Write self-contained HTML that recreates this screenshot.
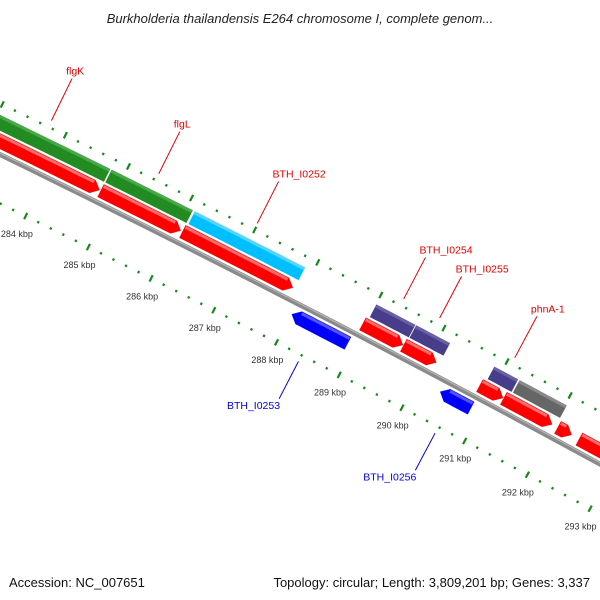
<!DOCTYPE html>
<html><head><meta charset="utf-8"><style>
html,body{margin:0;padding:0;background:#fff}
svg{display:block}
text{font-family:"Liberation Sans","DejaVu Sans",sans-serif}
</style></head><body>
<svg id="map" width="600" height="600" viewBox="0 0 600 600" xmlns="http://www.w3.org/2000/svg">
<text x="300" y="23" text-anchor="middle" font-size="13" font-style="italic" fill="#222">Burkholderia thailandensis E264 chromosome I, complete genom...</text>
<g id="ticks"></g>
<g id="feats"></g>
<g id="labels"></g>
<text x="9" y="587" font-size="13" fill="#111">Accession: NC_007651</text>
<text x="590" y="587" text-anchor="end" font-size="13" fill="#111">Topology: circular; Length: 3,809,201 bp; Genes: 3,337</text>
</svg>
<script>
// data (kbp)
const tickKbp = [282,283,284,285,286,287,288,289,290,291,292,293,294,295];
const tickLabels = ["282 kbp","283 kbp","284 kbp","285 kbp","286 kbp","287 kbp","288 kbp","289 kbp","290 kbp","291 kbp","292 kbp","293 kbp","294 kbp","295 kbp"];
const featStart = [280.0, 284.80, 286.12, 289.00, 289.63, 290.87, 291.27, 280.0, 284.80, 286.10, 288.96, 289.61, 290.82, 291.20, 292.06, 292.40, 288.01, 290.37];
const featEnd   = [284.79, 286.10, 287.88, 289.63, 290.18, 291.26, 292.03, 284.78, 286.07, 287.85, 289.60, 290.13, 291.19, 291.97, 292.28, 295.0, 288.90, 290.86];
const featTrack = ["outer","outer","outer","outer","outer","outer","outer","fwd","fwd","fwd","fwd","fwd","fwd","fwd","fwd","fwd","rev","rev"];
const featType  = ["green","green","cyan","purple","purple","purple","gray","red","red","red","red","red","red","red","red","red","blue","blue"];
const labelText = ["flgK","flgL","BTH_I0252","BTH_I0254","BTH_I0255","phnA-1","BTH_I0253","BTH_I0256"];
const labelKbp  = [283.73, 285.43, 286.99, 289.31, 289.88, 291.07, 288.4, 290.58];
const labelStrand = ["f","f","f","f","f","f","r","r"];

const NS="http://www.w3.org/2000/svg";
function P(k,d){
  const bx=108+(k-285)*62.9;
  const by=154.5+0.487*bx+4.8e-5*bx*bx;
  const t=Math.atan(0.487+9.6e-5*bx);
  return [bx+d*Math.sin(t), by-d*Math.cos(t)];
}
function mk(tag,attrs,parent){const e=document.createElementNS(NS,tag);for(const a in attrs)e.setAttribute(a,attrs[a]);parent.appendChild(e);return e;}
function pathAlong(k0,k1,d){let s="";const n=20;for(let i=0;i<=n;i++){const p=P(k0+(k1-k0)*i/n,d);s+=(i?"L":"M")+p[0].toFixed(1)+","+p[1].toFixed(1);}return s;}

const ticks=document.getElementById('ticks');
let bb=mk('path',{d:pathAlong(278,297,0),stroke:'#8a8a8a','stroke-width':5,fill:'none'},ticks);


let bb2=mk('path',{d:pathAlong(278,297,1.2),stroke:'#b5b5b5','stroke-width':1.2,fill:'none'},ticks);



for(let i=0;i<=14*5;i++){
  const k=281+i*0.2;
  const major=Math.abs(k-Math.round(k))<1e-6;
  [[46,1],[-44,-1]].forEach(([d,s])=>{
    const a=major?P(k,d-3.5):P(k,d-1.2), b=major?P(k,d+3.5):P(k,d+1.2);
    const l=mk('line',{x1:a[0],y1:a[1],x2:b[0],y2:b[1],stroke:'#17881a','stroke-width':2.2},ticks);
    
    
  });
}
tickKbp.forEach((k,i)=>{
  const p=P(k,-64);
  const t=mk('text',{x:p[0],y:p[1]+3,'text-anchor':'middle','font-size':9,fill:'#333'},ticks);
  t.textContent=tickLabels[i];
  
  
});

const trackD={outer:[21,36],fwd:[5,19],rev:[-19,-5]};
const col={green:['#228b22','#48a848','#1b6f1b'],cyan:['#00bfff','#55d4ff','#0099cc'],purple:['#483d8b','#6a60a8','#39306f'],gray:['#666666','#8a8a8a','#525252'],red:['#ff0000','#ff6a6a','#cc0000'],blue:['#0000ff','#5555ff','#0000c8']};
const feats=document.getElementById('feats');
const H=0.11;
featStart.forEach((s,i)=>{
  const e=featEnd[i],tr=featTrack[i],[d0,d1]=trackD[tr],c=col[featType[i]];
  const dm=(d0+d1)/2;
  let pts=[];
  if(tr==='fwd'){
    const eb=Math.max(s,e-H);
    for(let j=0;j<=10;j++)pts.push(P(s+(eb-s)*j/10,d1));
    pts.push(P(e,dm));
    for(let j=10;j>=0;j--)pts.push(P(s+(eb-s)*j/10,d0));
  }else if(tr==='rev'){
    const sb=Math.min(e,s+H);
    pts.push(P(s,dm));
    for(let j=0;j<=10;j++)pts.push(P(sb+(e-sb)*j/10,d1));
    for(let j=10;j>=0;j--)pts.push(P(sb+(e-sb)*j/10,d0));
  }else{
    for(let j=0;j<=10;j++)pts.push(P(s+(e-s)*j/10,d1));
    for(let j=10;j>=0;j--)pts.push(P(s+(e-s)*j/10,d0));
  }
  const g=mk('g',{},feats);
  
  
  mk('polygon',{points:pts.map(p=>p[0].toFixed(1)+','+p[1].toFixed(1)).join(' '),fill:c[0],stroke:tr==='outer'?'#fff':c[2],'stroke-width':tr==='outer'?0.8:0.3},g);
  const hs=tr==='fwd'?s:(tr==='rev'?Math.min(e,s+H):s), he=tr==='fwd'?Math.max(s,e-H):e;
  const hl=mk('path',{d:pathAlong(hs+0.01,he-0.01,d1-2),stroke:c[1],'stroke-width':3,fill:'none'},g);
  
  
});

const labels=document.getElementById('labels');
labelText.forEach((t,i)=>{
  const k=labelKbp[i], f=labelStrand[i]==='f';
  const a=f?P(k,53):P(k,-51), b=f?P(k,100):P(k,-93);
  const color=f?'#e00000':'#0000e0';
  const ln=mk('line',{x1:a[0],y1:a[1],x2:b[0],y2:b[1],stroke:color,'stroke-width':1},labels);
  
  
  const tx=mk('text',{x:f?b[0]-6:b[0]+1,y:f?b[1]-4:b[1]+10,'font-size':10.5,fill:color,'text-anchor':f?'start':'end'},labels);
  tx.textContent=t;
  
  
});
</script>
</body></html>
